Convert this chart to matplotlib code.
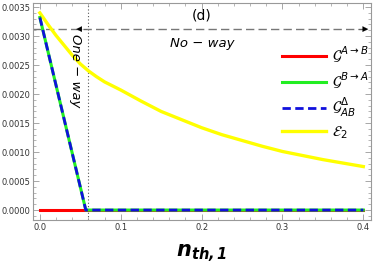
import numpy as np
import matplotlib.pyplot as plt
from matplotlib.ticker import MultipleLocator, FormatStrFormatter

plt.rcParams['mathtext.fontset'] = 'dejavusans'

# valeurs
n_e2 = [0.0, 0.01, 0.02, 0.03, 0.04, 0.05, 0.06, 0.07, 0.08, 0.09, 0.1,
        0.125, 0.15, 0.175, 0.2, 0.225, 0.25, 0.275, 0.3, 0.325, 0.35,
        0.375, 0.4]
e2 = [0.00340, 0.00320, 0.00301, 0.00284, 0.00267, 0.00252, 0.00240,
      0.00230, 0.00221, 0.00214, 0.00207, 0.00188, 0.00170, 0.00156,
      0.00142, 0.00130, 0.00120, 0.00110, 0.00101, 0.00094, 0.00087,
      0.00081, 0.00075]

n_g = [0.0, 0.0568, 0.4]
g_ab = [0.0, 0.0, 0.0]
g_ba = [0.00332, 0.0, 0.0]
g_delta = [0.00332, 0.0, 0.0]

n_limit = 0.0597
y_noway = 0.00312

fig = plt.figure(figsize=(3.74, 2.73), dpi=100)
ax = fig.add_axes([0.088, 0.194, 0.904, 0.795])

ax.plot(n_g, g_ab, color='red', lw=2.2, label=r'$\mathcal{G}^{A\to B}$', zorder=3)
ax.plot(n_g, g_ba, color='#22ee22', lw=2.2, label=r'$\mathcal{G}^{B\to A}$', zorder=4)
ax.plot(n_g, g_delta, color='#1010dd', lw=2.0, ls=(0, (3, 1.6)),
        label=r'$\mathcal{G}^{\Delta}_{AB}$', zorder=5)
ax.plot(n_e2, e2, color='#ffff00', lw=2.4, label=r'$\mathcal{E}_2$', zorder=2,
        solid_joinstyle='round')

ax.axvline(n_limit, color='#555555', lw=0.8, ls=(0, (1, 2)), zorder=1)
ax.axhline(y_noway, color='#777777', lw=1.0, ls=(0, (6, 3)), zorder=1)
ax.annotate('', xy=(0.0415, y_noway), xytext=(n_limit + 0.002, y_noway),
            arrowprops=dict(arrowstyle='-|>', color='black', lw=0.1,
                            mutation_scale=10))
ax.annotate('', xy=(0.4095, y_noway), xytext=(0.39, y_noway),
            arrowprops=dict(arrowstyle='-|>', color='black', lw=0.1,
                            mutation_scale=10))

ax.text(0.2, 0.00335, '(d)', fontsize=10, ha='center', va='center')
ax.text(0.2005, 0.00288, 'No \u2212 way', fontsize=9.5, style='italic',
        ha='center', va='center')
ax.text(0.0445, 0.00240, 'One \u2212 way', fontsize=9.5, style='italic',
        ha='center', va='center', rotation=-90)

ax.set_xlim(-0.0086, 0.4095)
ax.set_ylim(-0.000172, 0.00357)
ax.xaxis.set_major_locator(MultipleLocator(0.1))
ax.xaxis.set_minor_locator(MultipleLocator(0.02))
ax.yaxis.set_major_locator(MultipleLocator(0.0005))
ax.yaxis.set_minor_locator(MultipleLocator(0.0001))
ax.xaxis.set_major_formatter(FormatStrFormatter('%.1f'))
ax.yaxis.set_major_formatter(FormatStrFormatter('%.4f'))
ax.tick_params(which='both', direction='in', top=True, right=True,
               color='#999999', labelsize=6, labelcolor='#333333', pad=2)
ax.tick_params(which='major', length=4, width=0.6)
ax.tick_params(which='minor', length=2, width=0.5)
for s in ax.spines.values():
    s.set_color('#999999')
    s.set_linewidth(0.8)

ax.set_xlabel(r'$\mathbfit{n}_{\mathbfit{th,1}}$', fontsize=15, labelpad=8)

leg = ax.legend(loc='upper left', bbox_to_anchor=(0.72, 0.835), frameon=False,
                fontsize=10.5, handlelength=3.0, handletextpad=0.4,
                labelspacing=0.35, borderaxespad=0)

fig.savefig('out.png', dpi=100)
